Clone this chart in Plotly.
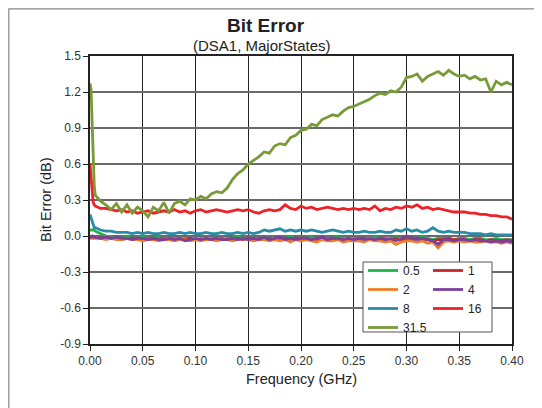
import plotly.graph_objects as go

# frequency points (GHz)
freq = [0.000, 0.001, 0.002, 0.003, 0.004,
        0.005, 0.010, 0.015, 0.020, 0.025, 0.030, 0.035, 0.040, 0.045, 0.050,
        0.055, 0.060, 0.065, 0.070, 0.075, 0.080, 0.085, 0.090, 0.095, 0.100,
        0.105, 0.110, 0.115, 0.120, 0.125, 0.130, 0.135, 0.140, 0.145, 0.150,
        0.155, 0.160, 0.165, 0.170, 0.175, 0.180, 0.185, 0.190, 0.195, 0.200,
        0.205, 0.210, 0.215, 0.220, 0.225, 0.230, 0.235, 0.240, 0.245, 0.250,
        0.255, 0.260, 0.265, 0.270, 0.275, 0.280, 0.285, 0.290, 0.295, 0.300,
        0.305, 0.310, 0.315, 0.320, 0.325, 0.330, 0.335, 0.340, 0.345, 0.350,
        0.355, 0.360, 0.365, 0.370, 0.375, 0.380, 0.385, 0.390, 0.395, 0.400]

# bit error (dB) per state
s0_5 = [0.05, 0.05, 0.05, 0.05, 0.05,
        0.04, 0.02, 0.00, -0.01, -0.01, -0.02, -0.01, -0.02, -0.02, -0.01,
        -0.02, -0.02, -0.01, -0.03, -0.02, -0.02, -0.03, -0.02, -0.02, -0.03,
        -0.02, -0.03, -0.02, -0.02, -0.03, -0.02, -0.02, -0.01, -0.02, -0.02,
        -0.02, -0.03, -0.01, -0.02, -0.03, -0.02, -0.02, -0.01, -0.02, -0.02,
        -0.02, -0.01, -0.03, -0.02, -0.02, -0.02, -0.01, -0.02, -0.03, -0.02,
        -0.02, -0.02, -0.03, -0.01, -0.02, -0.02, -0.03, -0.01, -0.03, -0.02,
        -0.02, -0.02, -0.01, -0.02, -0.03, -0.02, -0.02, -0.02, -0.03, -0.02,
        -0.02, -0.03, -0.02, -0.02, -0.03, -0.03, -0.02, -0.03, -0.03, -0.03]

s1 = [0.00, -0.01, -0.01, -0.01, -0.01,
      -0.01, -0.02, -0.01, -0.02, -0.02, -0.03, -0.02, -0.02, -0.03, -0.02,
      -0.03, -0.02, -0.03, -0.02, -0.03, -0.03, -0.02, -0.03, -0.02, -0.03,
      -0.03, -0.02, -0.03, -0.03, -0.02, -0.03, -0.03, -0.02, -0.03, -0.02,
      -0.03, -0.02, -0.03, -0.02, -0.03, -0.03, -0.02, -0.03, -0.02, -0.03,
      -0.02, -0.03, -0.03, -0.02, -0.03, -0.02, -0.03, -0.03, -0.02, -0.03,
      -0.03, -0.02, -0.03, -0.03, -0.02, -0.03, -0.03, -0.02, -0.04, -0.03,
      -0.03, -0.02, -0.03, -0.03, -0.04, -0.03, -0.03, -0.02, -0.03, -0.03,
      -0.03, -0.04, -0.03, -0.03, -0.04, -0.03, -0.04, -0.04, -0.03, -0.04]

s2 = [-0.01, -0.02, -0.02, -0.02, -0.02,
      -0.02, -0.02, -0.03, -0.02, -0.03, -0.03, -0.02, -0.03, -0.03, -0.04,
      -0.03, -0.03, -0.04, -0.03, -0.03, -0.04, -0.03, -0.03, -0.04, -0.03,
      -0.04, -0.03, -0.03, -0.04, -0.03, -0.03, -0.04, -0.03, -0.02, -0.03,
      -0.04, -0.03, -0.03, -0.04, -0.03, -0.04, -0.03, -0.05, -0.03, -0.04,
      -0.03, -0.04, -0.05, -0.03, -0.04, -0.04, -0.03, -0.05, -0.04, -0.04,
      -0.04, -0.05, -0.03, -0.04, -0.04, -0.05, -0.04, -0.07, -0.05, -0.04,
      -0.04, -0.05, -0.04, -0.06, -0.05, -0.10, -0.05, -0.04, -0.05, -0.04,
      -0.05, -0.04, -0.05, -0.05, -0.04, -0.05, -0.05, -0.06, -0.05, -0.06]

s4 = [-0.01, -0.01, 0.00, -0.01, -0.01,
      -0.01, -0.02, -0.01, -0.02, -0.01, -0.02, -0.02, -0.03, -0.02, -0.02,
      -0.03, -0.02, -0.03, -0.03, -0.02, -0.03, -0.02, -0.04, -0.03, -0.02,
      -0.03, -0.02, -0.03, -0.02, -0.03, -0.03, -0.02, -0.03, -0.02, -0.03,
      -0.02, -0.03, -0.01, -0.03, -0.02, -0.01, -0.03, -0.02, -0.03, -0.02,
      -0.02, -0.03, -0.02, -0.01, -0.03, -0.02, -0.02, -0.03, -0.02, -0.03,
      -0.02, -0.03, -0.02, -0.03, -0.02, -0.03, -0.02, -0.04, -0.02, 0.00,
      -0.02, -0.03, -0.02, -0.03, -0.04, -0.07, -0.03, -0.03, -0.04, -0.03,
      -0.03, -0.04, -0.03, -0.04, -0.04, -0.05, -0.04, -0.05, -0.04, -0.05]

s8 = [0.18, 0.15, 0.11, 0.08, 0.07,
      0.07, 0.05, 0.04, 0.04, 0.03, 0.03, 0.03, 0.02, 0.03, 0.02,
      0.03, 0.02, 0.02, 0.03, 0.02, 0.02, 0.03, 0.02, 0.03, 0.02,
      0.02, 0.03, 0.02, 0.02, 0.03, 0.02, 0.02, 0.03, 0.02, 0.03,
      0.02, 0.03, 0.05, 0.04, 0.05, 0.06, 0.04, 0.05, 0.04, 0.05,
      0.04, 0.05, 0.04, 0.03, 0.04, 0.05, 0.04, 0.03, 0.04, 0.03,
      0.03, 0.04, 0.03, 0.03, 0.04, 0.03, 0.03, 0.05, 0.04, 0.06,
      0.04, 0.05, 0.03, 0.04, 0.07, 0.04, 0.03, 0.04, 0.03, 0.03,
      0.03, 0.02, 0.02, 0.02, 0.01, 0.02, 0.01, 0.01, 0.01, 0.01]

s16 = [0.60, 0.48, 0.33, 0.28, 0.26,
       0.25, 0.23, 0.23, 0.22, 0.21, 0.22, 0.20, 0.21, 0.19, 0.20,
       0.21, 0.19, 0.20, 0.21, 0.20, 0.22, 0.20, 0.21, 0.19, 0.21,
       0.22, 0.20, 0.21, 0.22, 0.21, 0.20, 0.21, 0.22, 0.21, 0.22,
       0.20, 0.19, 0.21, 0.22, 0.21, 0.22, 0.26, 0.23, 0.22, 0.25,
       0.23, 0.24, 0.22, 0.23, 0.24, 0.23, 0.22, 0.23, 0.22, 0.23,
       0.22, 0.23, 0.22, 0.25, 0.21, 0.23, 0.22, 0.24, 0.23, 0.25,
       0.24, 0.26, 0.23, 0.24, 0.22, 0.23, 0.22, 0.21, 0.20, 0.20,
       0.20, 0.19, 0.19, 0.18, 0.18, 0.17, 0.17, 0.16, 0.16, 0.14]

s31_5 = [1.27, 1.22, 0.95, 0.65, 0.42,
         0.34, 0.29, 0.26, 0.22, 0.27, 0.20, 0.26, 0.19, 0.24, 0.21,
         0.16, 0.24, 0.21, 0.28, 0.19, 0.27, 0.29, 0.26, 0.31, 0.30,
         0.33, 0.31, 0.35, 0.37, 0.36, 0.40, 0.47, 0.52, 0.55, 0.60,
         0.63, 0.66, 0.70, 0.69, 0.75, 0.77, 0.76, 0.82, 0.84, 0.88,
         0.89, 0.93, 0.92, 0.97, 0.99, 1.01, 1.00, 1.04, 1.07, 1.08,
         1.10, 1.12, 1.14, 1.17, 1.19, 1.18, 1.21, 1.20, 1.24, 1.32,
         1.33, 1.35, 1.29, 1.33, 1.35, 1.37, 1.34, 1.38, 1.35, 1.33,
         1.34, 1.31, 1.33, 1.30, 1.31, 1.20, 1.29, 1.26, 1.28, 1.26]

names = ["0.5", "1", "2", "4", "8", "16", "31.5"]
values = [s0_5, s1, s2, s4, s8, s16, s31_5]
colors = ["#22b24c", "#c1272d", "#f07c2a", "#7b3f9e", "#2a8ba6", "#ee2127", "#7a9a3a"]
# left legend column / right legend column
legend_of = ["legend", "legend2", "legend", "legend2", "legend", "legend2", "legend"]

y_ticks = [-0.9, -0.6, -0.3, 0.0, 0.3, 0.6, 0.9, 1.2, 1.5]
y_tick_labels = ["-0.9", "-0.6", "-0.3", "0.0", "0.3", "0.6", "0.9", "1.2", "1.5"]

FONT = "Liberation Sans, Arial, sans-serif"

fig = go.Figure()
for name, vals, col, lg in zip(names, values, colors, legend_of):
    fig.add_trace(go.Scatter(x=freq, y=vals, name=name, mode="lines",
                             line=dict(color=col, width=2.8), legend=lg))

# page body puts the figure 8px in from the window corner
OFF = 8
L, T, W, H = 90 - OFF, 56 - OFF, 422, 288


def px(xs):
    return (xs - OFF - L) / W


def py(ys):
    return (T + H - (ys - OFF)) / H


leg = dict(font=dict(size=12, color="#222", family=FONT), bgcolor="rgba(0,0,0,0)",
           borderwidth=0, tracegroupgap=0, xanchor="left", yanchor="top")

fig.update_layout(
    width=542, height=408,
    margin=dict(l=L, r=542 - L - W, t=T, b=408 - T - H),
    paper_bgcolor="white", plot_bgcolor="white",
    font=dict(family=FONT, color="#222"),
    showlegend=True,
    legend=dict(leg, x=px(363), y=py(256)),
    legend2=dict(leg, x=px(428), y=py(256)),
    annotations=[
        dict(text="<b>Bit Error</b>", xref="paper", yref="paper", x=px(266), y=py(26),
             xanchor="center", yanchor="middle", showarrow=False,
             font=dict(size=19, color="#222")),
        dict(text="(DSA1, MajorStates)", xref="paper", yref="paper", x=px(262), y=py(45),
             xanchor="center", yanchor="middle", showarrow=False,
             font=dict(size=15, color="#222")),
        dict(text="Frequency (GHz)", xref="paper", yref="paper", x=px(301), y=py(379),
             xanchor="center", yanchor="middle", showarrow=False,
             font=dict(size=14.5, color="#222")),
        dict(text="Bit Error (dB)", xref="paper", yref="paper", x=px(46), y=py(200),
             xanchor="center", yanchor="middle", showarrow=False, textangle=-90,
             font=dict(size=14.5, color="#222")),
    ],
    shapes=[
        # legend box
        dict(type="rect", xref="paper", yref="paper", x0=px(363), x1=px(492),
             y0=py(332), y1=py(262), line=dict(color="#555", width=1),
             fillcolor="white", layer="above"),
        # outer frame
        dict(type="rect", xref="paper", yref="paper", x0=px(8.8), x1=px(600),
             y0=py(460), y1=py(8.8), line=dict(color="#888", width=1.2),
             fillcolor="rgba(0,0,0,0)", layer="above"),
    ],
)

fig.update_xaxes(
    range=[0, 0.4], dtick=0.05, tick0=0, tickformat=".2f",
    showgrid=True, gridcolor="#222", gridwidth=1.3,
    showline=True, linecolor="#222", linewidth=1.5, mirror=True,
    ticks="outside", ticklen=5, tickcolor="#222",
    tickfont=dict(size=12, color="#333"),
    zeroline=False, automargin=False,
)
fig.update_yaxes(
    range=[-0.9, 1.5], tickmode="array", tickvals=y_ticks, ticktext=y_tick_labels,
    showgrid=True, gridcolor="#6a6a6a", gridwidth=1.5,
    showline=True, linecolor="#222", linewidth=1.5, mirror=True,
    ticks="outside", ticklen=5, tickcolor="#222",
    tickfont=dict(size=12, color="#333"),
    zeroline=False, automargin=False,
)

fig.write_html("out.html")
